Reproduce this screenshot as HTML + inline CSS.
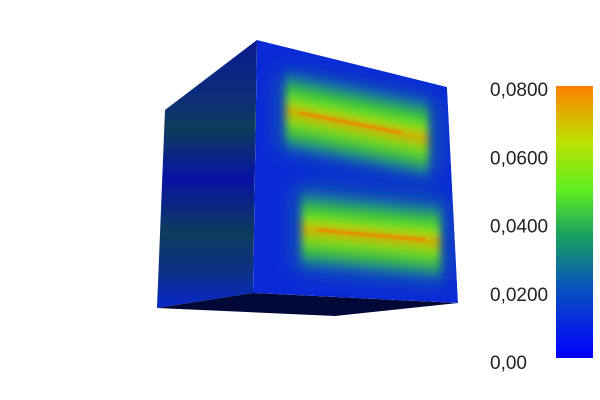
<!DOCTYPE html>
<html><head><meta charset="utf-8"><style>
html,body{margin:0;padding:0;background:#fff;width:600px;height:400px;overflow:hidden}
text{font-family:"Liberation Sans",sans-serif;font-weight:300}
</style></head><body>
<svg width="600" height="400" viewBox="0 0 600 400">
<defs>
<linearGradient id="lg" x1="0" y1="40" x2="0" y2="308" gradientUnits="userSpaceOnUse">
<stop offset="0" stop-color="#0a1a90"/>
<stop offset="0.22" stop-color="#0d2f78"/>
<stop offset="0.33" stop-color="#0e3c5c"/>
<stop offset="0.52" stop-color="#0812a4"/>
<stop offset="0.72" stop-color="#0e3c5c"/>
<stop offset="0.85" stop-color="#0d3080"/>
<stop offset="1" stop-color="#0828c8"/>
</linearGradient>
<linearGradient id="cb" x1="0" y1="1" x2="0" y2="0">
<stop offset="0" stop-color="#0000ff"/>
<stop offset="0.25" stop-color="#0a50c0"/>
<stop offset="0.45" stop-color="#18a060"/>
<stop offset="0.62" stop-color="#60f020"/>
<stop offset="0.8" stop-color="#c0e000"/>
<stop offset="1" stop-color="#ff8000"/>
</linearGradient>
<linearGradient id="bu" gradientUnits="userSpaceOnUse" x1="358.8" y1="78.9" x2="341.2" y2="167.1">
<stop offset="0" stop-color="#0a2ad8" stop-opacity="0"/>
<stop offset="0.12" stop-color="#1568a8"/>
<stop offset="0.25" stop-color="#30b848"/>
<stop offset="0.38" stop-color="#70e020"/>
<stop offset="0.46" stop-color="#b8d008"/>
<stop offset="0.5" stop-color="#e09000"/>
<stop offset="0.55" stop-color="#b0c808"/>
<stop offset="0.65" stop-color="#70d820"/>
<stop offset="0.78" stop-color="#30b050"/>
<stop offset="0.9" stop-color="#1560b0"/>
<stop offset="1" stop-color="#0a2ad8" stop-opacity="0"/>
</linearGradient>
<linearGradient id="bl" gradientUnits="userSpaceOnUse" x1="375.2" y1="190.2" x2="366.8" y2="279.8">
<stop offset="0" stop-color="#0a2ad8" stop-opacity="0"/>
<stop offset="0.12" stop-color="#1568a8"/>
<stop offset="0.25" stop-color="#30b848"/>
<stop offset="0.38" stop-color="#70e020"/>
<stop offset="0.46" stop-color="#b8d008"/>
<stop offset="0.5" stop-color="#e09000"/>
<stop offset="0.55" stop-color="#b0c808"/>
<stop offset="0.65" stop-color="#70d820"/>
<stop offset="0.78" stop-color="#30b050"/>
<stop offset="0.9" stop-color="#1560b0"/>
<stop offset="1" stop-color="#0a2ad8" stop-opacity="0"/>
</linearGradient>
<clipPath id="rc"><polygon points="257,40 447,87 458,303 253,293"/></clipPath>
<filter id="b3" x="-50%" y="-50%" width="200%" height="200%"><feGaussianBlur stdDeviation="12"/></filter>
<filter id="b2" x="-50%" y="-50%" width="200%" height="200%"><feGaussianBlur stdDeviation="4"/></filter>
<filter id="b1" x="-50%" y="-50%" width="200%" height="200%"><feGaussianBlur stdDeviation="1"/></filter>
</defs>
<polygon points="165,110 257,40 253,293 157,308" fill="url(#lg)"/>
<polygon points="157,308 253,293 458,303 335,316" fill="#020838"/>
<g clip-path="url(#rc)">
<polygon points="257,40 447,87 458,303 253,293" fill="#0a2ad8"/>
<polygon points="280,72 436,102 436,178 280,148" fill="#1a7890" opacity="0.8" filter="url(#b3)"/>
<polygon points="296,186 446,200 446,282 296,268" fill="#1a7890" opacity="0.8" filter="url(#b3)"/>
<polygon points="286,68 428,97 428,180 286,152" fill="url(#bu)" filter="url(#b2)"/>
<line x1="300" y1="113" x2="402" y2="133" stroke="#e88a00" stroke-width="3" filter="url(#b1)"/>
<polygon points="302,182 440,195 440,288 302,274" fill="url(#bl)" filter="url(#b2)"/>
<line x1="318" y1="230" x2="426" y2="240" stroke="#e88a00" stroke-width="3" filter="url(#b1)"/>
</g>
<g>
<rect x="556" y="86" width="37" height="272" fill="url(#cb)"/>
<g id="ticks"></g>
</g>
<script>
const tickLabels=["0,00","0,0200","0,0400","0,0600","0,0800"];
const tickValues=[0,0.02,0.04,0.06,0.08];
const vmin=0,vmax=0.08,yTop=89,yBot=362;
function yScale(v){return yBot-(v-vmin)/(vmax-vmin)*(yBot-yTop);}
const g=document.getElementById('ticks');
tickValues.forEach((v,i)=>{
 const t=document.createElementNS('http://www.w3.org/2000/svg','text');
 t.setAttribute('x',490);t.setAttribute('y',yScale(v)+7);
 t.setAttribute('font-size','19');t.setAttribute('fill','#222');
 t.textContent=tickLabels[i];
 
 
 g.appendChild(t);
});
</script>
</svg>
</body></html>
